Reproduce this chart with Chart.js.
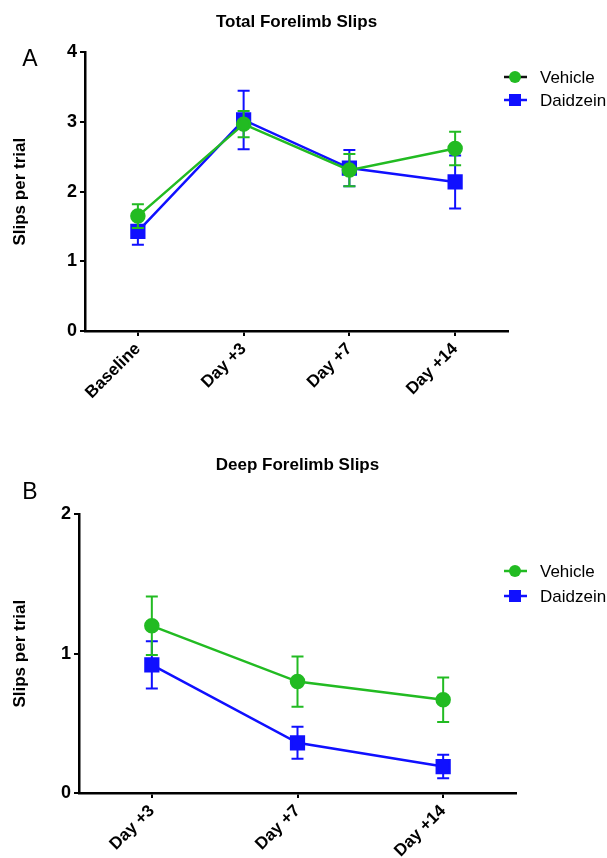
<!DOCTYPE html>
<html>
<head>
<meta charset="utf-8">
<script src="https://cdn.jsdelivr.net/npm/chart.js@4"></script>
<style>
  body { margin: 0; background: #fff; }
  canvas { display: block; }
</style>
</head>
<body>
<canvas id="totalChart" width="607" height="430"></canvas>
<canvas id="deepChart" width="607" height="428"></canvas>
<script>
// ---------- Data ----------
const totalDays = ["Baseline", "Day +3", "Day +7", "Day +14"];
const totalVehicle = [1.65, 2.97, 2.31, 2.62];
const totalVehicleSem = [0.17, 0.19, 0.23, 0.24];
const totalDaidzein = [1.43, 3.03, 2.34, 2.14];
const totalDaidzeinSem = [0.19, 0.42, 0.26, 0.38];

const deepDays = ["Day +3", "Day +7", "Day +14"];
const deepVehicle = [1.20, 0.80, 0.67];
const deepVehicleSem = [0.21, 0.18, 0.16];
const deepDaidzein = [0.92, 0.36, 0.19];
const deepDaidzeinSem = [0.17, 0.115, 0.085];

const GREEN = "#22bb22";
const BLUE = "#1010ff";
const FONT = '"Liberation Sans", Arial, sans-serif';

// ---------- Error bars (drawn under each dataset) ----------
const errorBars = {
  id: 'errorBars',
  beforeDatasetDraw(chart, args) {
    const ds = chart.data.datasets[args.index];
    if (!ds.sem) return;
    const yScale = chart.scales.y;
    const ctx = chart.ctx;
    ctx.save();
    ctx.strokeStyle = ds.borderColor;
    ctx.lineWidth = 2;
    args.meta.data.forEach((pt, i) => {
      const top = yScale.getPixelForValue(ds.data[i] + ds.sem[i]);
      const bot = yScale.getPixelForValue(ds.data[i] - ds.sem[i]);
      ctx.beginPath();
      ctx.moveTo(pt.x, top); ctx.lineTo(pt.x, bot);
      ctx.moveTo(pt.x - 6, top); ctx.lineTo(pt.x + 6, top);
      ctx.moveTo(pt.x - 6, bot); ctx.lineTo(pt.x + 6, bot);
      ctx.stroke();
    });
    ctx.restore();
  }
};

// ---------- Panel letter + legend ----------
const panelDecor = {
  id: 'panelDecor',
  afterDraw(chart, args, opts) {
    const ctx = chart.ctx;
    ctx.save();
    ctx.fillStyle = '#000';
    ctx.font = '23px ' + FONT;
    ctx.textAlign = 'center';
    ctx.textBaseline = 'middle';
    ctx.fillText(opts.letter, opts.letterX, opts.letterY);

    chart.data.datasets.forEach((ds, i) => {
      const x = opts.legendX;
      const y = opts.legendY + i * opts.legendGap;
      ctx.strokeStyle = (i === 0 && opts.firstLineColor) ? opts.firstLineColor : ds.borderColor;
      ctx.lineWidth = 2.5;
      ctx.beginPath();
      ctx.moveTo(x - 11, y); ctx.lineTo(x + 12, y);
      ctx.stroke();
      ctx.fillStyle = ds.borderColor;
      if (ds.pointStyle === 'rect') {
        ctx.fillRect(x - 6, y - 6, 12, 12);
      } else {
        ctx.beginPath();
        ctx.arc(x, y, 6, 0, Math.PI * 2);
        ctx.fill();
      }
      ctx.fillStyle = '#000';
      ctx.font = '17px ' + FONT;
      ctx.textAlign = 'left';
      ctx.fillText(ds.label, x + 25, y + 1);
    });
    ctx.restore();
  }
};

// ---------- Chart builder ----------
function makePanel(canvasId, cfg) {
  const datasets = [
    {
      label: 'Vehicle',
      data: cfg.vehicle,
      sem: cfg.vehicleSem,
      borderColor: GREEN,
      backgroundColor: GREEN,
      pointStyle: 'circle',
      pointRadius: 6.5,
      borderWidth: 2.5,
      tension: 0
    },
    {
      label: 'Daidzein',
      data: cfg.daidzein,
      sem: cfg.daidzeinSem,
      borderColor: BLUE,
      backgroundColor: BLUE,
      pointStyle: 'rect',
      pointRadius: 9,
      borderWidth: 2.5,
      tension: 0
    }
  ];

  return new Chart(document.getElementById(canvasId), {
    type: 'line',
    data: { labels: cfg.labels, datasets: datasets },
    plugins: [errorBars, panelDecor],
    options: {
      responsive: false,
      animation: false,
      layout: { padding: { top: 0, right: cfg.padRight, bottom: 0, left: 0 } },
      plugins: {
        legend: { display: false },
        tooltip: { enabled: false },
        title: {
          display: true,
          text: cfg.title,
          fullSize: false,
          color: '#000',
          font: { family: FONT, size: 17, weight: 'bold' },
          padding: cfg.titlePad
        },
        panelDecor: cfg.decor
      },
      scales: {
        x: {
          offset: true,
          grid: { display: true, drawOnChartArea: false, drawTicks: true, tickLength: 5, color: '#000', lineWidth: 2 },
          border: { display: true, color: '#000', width: 2.5 },
          ticks: {
            color: '#000',
            font: { family: FONT, size: 17, weight: 'bold' },
            minRotation: 45,
            maxRotation: 45,
            padding: 3
          },
          afterFit: s => { s.height = cfg.xHeight; }
        },
        y: {
          min: 0,
          max: cfg.yMax,
          grid: { display: true, drawOnChartArea: false, drawTicks: true, tickLength: 5, color: '#000', lineWidth: 2 },
          border: { display: true, color: '#000', width: 2.5 },
          ticks: {
            stepSize: 1,
            color: '#000',
            padding: 3,
            font: { family: FONT, size: 18, weight: 'bold' }
          },
          title: {
            display: true,
            text: 'Slips per trial',
            color: '#000',
            font: { family: FONT, size: 17, weight: 'bold' },
            padding: { top: 10, bottom: 0 }
          },
          afterFit: s => { s.width = cfg.yWidth; }
        }
      }
    }
  });
}

makePanel('totalChart', {
  title: 'Total Forelimb Slips',
  labels: totalDays,
  vehicle: totalVehicle,
  vehicleSem: totalVehicleSem,
  daidzein: totalDaidzein,
  daidzeinSem: totalDaidzeinSem,
  yMax: 4,
  yWidth: 85,
  xHeight: 99,
  padRight: 99,
  titlePad: { top: 12, bottom: 20 },
  decor: { letter: 'A', letterX: 30, letterY: 60, legendX: 515, legendY: 77, legendGap: 23, firstLineColor: '#111' }
});

makePanel('deepChart', {
  title: 'Deep Forelimb Slips',
  labels: deepDays,
  vehicle: deepVehicle,
  vehicleSem: deepVehicleSem,
  daidzein: deepDaidzein,
  daidzeinSem: deepDaidzeinSem,
  yMax: 2,
  yWidth: 79,
  xHeight: 65,
  padRight: 91,
  titlePad: { top: 25, bottom: 39 },
  decor: { letter: 'B', letterX: 30, letterY: 63, legendX: 515, legendY: 141, legendGap: 25 }
});
</script>
</body>
</html>
